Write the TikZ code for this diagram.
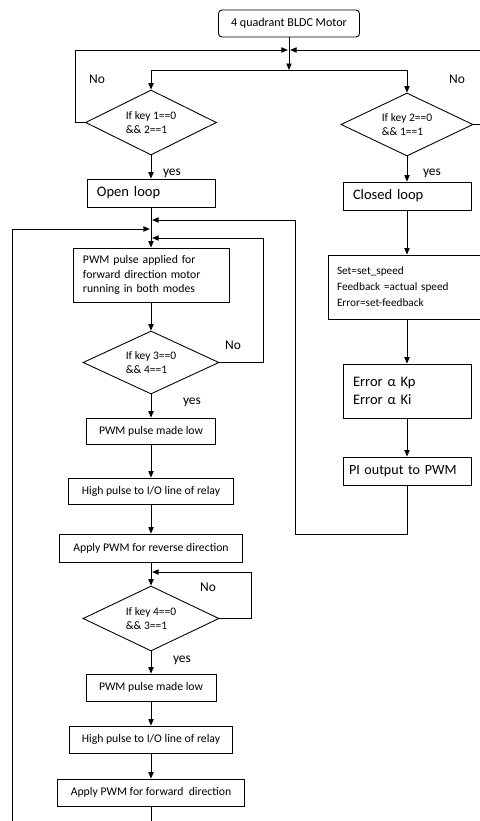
\documentclass[tikz,border=0pt]{standalone}
\usepackage{fontspec}
\setmainfont{Carlito}
\usetikzlibrary{arrows.meta, shapes.geometric}

\begin{document}
\begin{tikzpicture}[
    x=0.03cm, y=-0.03cm,
    >={Triangle[length=5.5pt,width=4.5pt]},
    line width=0.75pt,
    base/.style={draw, line width=0.75pt, inner sep=0pt},
    startbox/.style={base, rounded corners=3pt, minimum width=4.23cm,
      minimum height=0.81cm, font=\fontsize{10.3}{12}\selectfont},
    leftbox/.style={base, align=left, inner xsep=0.3cm},
    modebox/.style={leftbox, text width=3.24cm, minimum height=0.84cm,
      font=\fontsize{12.4}{15.6}\selectfont},
    stepbox/.style={base, font=\fontsize{10}{12.3}\selectfont},
    decision/.style={base, diamond, aspect=2, align=left,
      font=\fontsize{9.8}{12}\selectfont},
    lbl/.style={font=\fontsize{11.5}{13}\selectfont},
  ]
    \useasboundingbox (0,0) rectangle (479,821);

    % start and mode selection
    \node[startbox] (motor) at (289,23.5) {4 quadrant BLDC Motor};
    \coordinate (join) at (289,50);
    \coordinate (split) at (289,70);
    \node[decision, minimum width=3.93cm, minimum height=1.95cm] (key1) at (151,122.5) {If key 1==0\\\&\& 2==1};
    \node[decision, minimum width=3.96cm, minimum height=1.89cm] (key2) at (407,124.5) {If key 2==0\\\&\& 1==1};
    \node[modebox] (open) at (151,193) {Open loop};
    \node[modebox] (closed) at (407,196) {Closed loop};

    % open loop column
    \coordinate (fbin) at (151,220);
    \coordinate (loopin) at (151,229);
    \coordinate (key3in) at (151,238);
    \node[leftbox, text width=4.08cm, minimum height=1.62cm, font=\fontsize{10}{12.3}\selectfont] (fwdrun) at (151,275) {PWM pulse applied for\\forward direction motor\\running in both modes};
    \node[decision, minimum width=4.08cm, minimum height=1.89cm] (key3) at (151,362.5) {If key 3==0\\\&\& 4==1};
    \node[stepbox, minimum width=3.87cm, minimum height=0.78cm] (low1) at (151,431) {PWM pulse made low};
    \node[stepbox, minimum width=4.95cm, minimum height=0.78cm] (relay1) at (151,491) {High pulse to I/O line of relay};
    \node[stepbox, minimum width=5.49cm, minimum height=0.84cm] (rev) at (151,548) {Apply PWM for reverse direction};
    \coordinate (key4in) at (151,572);
    \node[decision, minimum width=4.08cm, minimum height=1.95cm] (key4) at (151,618.5) {If key 4==0\\\&\& 3==1};
    \node[stepbox, minimum width=3.9cm, minimum height=0.81cm] (low2) at (151,687.5) {PWM pulse made low};
    \node[stepbox, minimum width=4.89cm, minimum height=0.81cm] (relay2) at (151,739.5) {High pulse to I/O line of relay};
    \node[stepbox, minimum width=5.61cm, minimum height=0.81cm] (fwd) at (151,792.5) {Apply PWM for forward\ \ direction};
    \coordinate (loopturn) at (12,835);

    % closed loop column
    \node[leftbox, text width=4.2cm, inner xsep=0.27cm, minimum height=1.92cm, font=\fontsize{9.6}{13.6}\selectfont] (speed) at (407,287) {Set=set\_speed\\Feedback =actual speed\\Error=set-feedback};
    \node[leftbox, text width=3.24cm, minimum height=1.62cm, font=\fontsize{12.4}{15.6}\selectfont] (gain) at (407,391) {Error α Kp\\Error α Ki};
    \node[modebox, text width=3.48cm, inner xsep=0.18cm, font=\fontsize{12}{15}\selectfont] (pi) at (407,471) {PI output to PWM};
    \coordinate (fbturn) at (295,534);

    % labels
    \node[lbl] (no1) at (97,79) {No};
    \node[lbl] (no2) at (457,79) {No};
    \node[lbl] (yes1) at (172,173) {yes};
    \node[lbl] (yes2) at (432,173) {yes};
    \node[lbl] (no3) at (233,345) {No};
    \node[lbl] (yes3) at (192,402) {yes};
    \node[lbl] (no4) at (208,587) {No};
    \node[lbl] (yes4) at (182,660) {yes};

    % connectors
    \draw[->] (motor) -- (split);
    \draw[->] (split) -| (key1.north);
    \draw[->] (split) -| (key2.north);
    \draw[->, shorten >=1pt] (key1.west) -- ++(-10,0) |- (join);
    \draw[->, shorten >=1pt] (key2.east) -- ++(9,0) |- (join);
    \draw[->] (key1) -- (open);
    \draw[->] (key2) -- (closed);
    \draw[->] (open) -- (fwdrun);
    \draw[->] (fwdrun) -- (key3);
    \draw[->, shorten >=1pt] (key3.east) -- ++(44,0) |- (key3in);
    \draw[->] (key3) -- (low1);
    \draw[->] (low1) -- (relay1);
    \draw[->] (relay1) -- (rev);
    \draw[->] (rev) -- (key4);
    \draw[->, shorten >=1pt] (key4.east) -- ++(32,0) |- (key4in);
    \draw[->] (key4) -- (low2);
    \draw[->] (low2) -- (relay2);
    \draw[->] (relay2) -- (fwd);
    \draw[->, shorten >=1pt] (fwd.south) |- (loopturn) |- (loopin);
    \draw[->] (closed) -- (speed);
    \draw[->] (speed) -- (gain);
    \draw[->] (gain) -- (pi);
    \draw[->, shorten >=1pt] (pi.south) |- (fbturn) |- (fbin);
  \end{tikzpicture}
\end{document}
